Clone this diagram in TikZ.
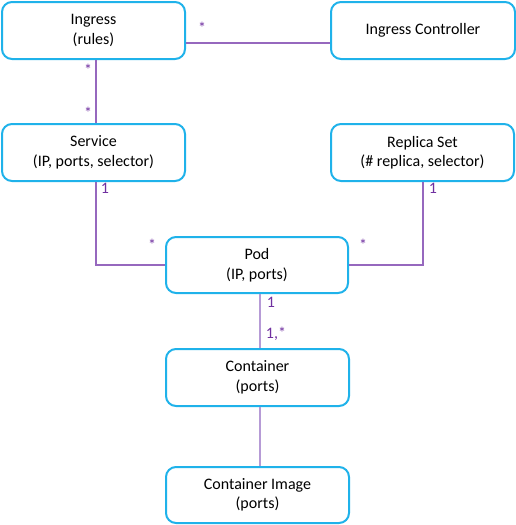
\documentclass[tikz,border=0pt]{standalone}
\usepackage{fontspec}
\setmainfont{Carlito}
\definecolor{boxc}{HTML}{1FB2EA}
\definecolor{linec}{HTML}{9668BE}
\definecolor{linel}{HTML}{B69BD6}
\definecolor{labc}{HTML}{7030A0}
\begin{document}
\begin{tikzpicture}[x=1pt,y=-1pt,
  box/.style={draw=boxc,line width=2pt,rounded corners=10pt,fill=white,
    minimum width=183pt,minimum height=57pt,align=center,inner sep=0pt,
    font=\fontsize{16}{19.5}\selectfont},
  conn/.style={draw=linec,line width=1.2pt},
  connl/.style={draw=linel,line width=1.8pt},
  lab/.style={text=labc,font=\fontsize{16}{17}\selectfont,inner sep=0pt}]
\useasboundingbox (0,0) rectangle (516,525);
\node[box] (ing) at (93.5,30.5) {Ingress\\(rules)};
\node[box,minimum width=184pt] (ctrl) at (423,30.5) {Ingress Controller};
\node[box] (svc) at (93.5,152.5) {Service\\(IP, ports, selector)};
\node[box] (rs) at (422.5,152.5) {Replica Set\\(\# replica, selector)};
\node[box,minimum width=182pt,minimum height=56pt] (pod) at (257,265) {Pod\\(IP, ports)};
\node[box] (cont) at (257.5,377.5) {Container\\(ports)};
\node[box,minimum height=56pt] (img) at (257.5,495) {Container Image\\(ports)};
\draw[conn] ([yshift=-12.5pt]ing.east) -- ([yshift=-12.5pt]ctrl.west);
\draw[conn] ([xshift=2.5pt]ing.south) -- ([xshift=2.5pt]svc.north);
\draw[conn] ([xshift=2.5pt]svc.south) |- (pod.west);
\draw[conn] ([xshift=0.5pt]rs.south) |- (pod.east);
\draw[connl] ([xshift=3pt]pod.south) -- ([xshift=2.5pt]cont.north);
\draw[connl] ([xshift=2.5pt]cont.south) -- ([xshift=2.5pt]img.north);
\node[lab] (l1) at (202,28) {*};
\node[lab] (l2) at (88,70) {*};
\node[lab] (l3) at (88,113) {*};
\node[lab] (l4) at (105,188) {1};
\node[lab] (l5) at (152,245) {*};
\node[lab] (l6) at (433,188) {1};
\node[lab] (l7) at (363,245) {*};
\node[lab] (l8) at (271,302) {1};
\node[lab] (l9) at (276,334) {1,*};
\end{tikzpicture}
\end{document}
